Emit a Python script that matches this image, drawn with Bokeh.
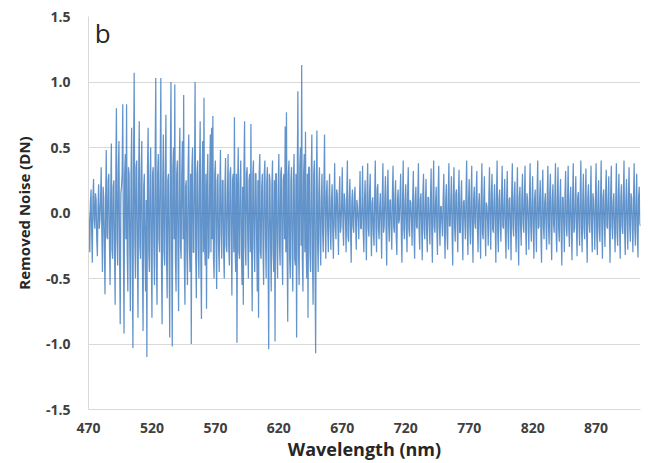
from bokeh.plotting import figure
from bokeh.models import FixedTicker, PrintfTickFormatter, Label, Range1d
from bokeh.embed import file_html
from bokeh.resources import INLINE

wl_start = 470.0
wl_step = 0.5
noise = [
    0.02, -0.10, -0.30, 0.08, 0.18, -0.15, -0.38, 0.12, 0.26, -0.05, -0.12, 0.15, 0.10, -0.20, -0.33, 0.05, 0.22, -0.12, -0.05, 0.10,
    0.35, -0.15, -0.45, 0.20, 0.12, -0.25, -0.62, 0.10, 0.48, -0.18, -0.20, 0.25, 0.30, -0.22, -0.55, 0.15, 0.53, -0.28, -0.35, 0.20,
    0.25, -0.30, -0.70, 0.28, 0.80, -0.20, -0.40, 0.32, 0.55, -0.35, -0.85, 0.15, 0.20, 0.30, 0.83, -0.25, -0.92, 0.30, 0.45, -0.20,
    0.83, -0.30, -0.60, 0.35, 0.30, -0.25, -0.75, 0.28, 0.65, -0.35, -1.03, 0.40, 1.07, -0.20, -0.50, 0.35, 0.40, -0.30, -0.80, 0.25,
    0.70, -0.25, -0.35, 0.30, 0.55, -0.40, -0.90, 0.20, 0.30, -0.30, -0.60, 0.10, -1.10, 0.35, 0.65, -0.30, -0.45, 0.25, 0.50, -0.35,
    -0.80, 0.30, 0.35, -0.25, -0.55, 0.40, 1.03, -0.35, -0.70, 0.30, 0.45, -0.20, -0.30, 0.35, 1.03, -0.40, -0.85, 0.25, 0.60, -0.30,
    -0.40, 0.30, 0.75, -0.35, -0.65, 0.25, 0.30, -0.30, -0.95, 0.40, 1.00, -0.25, -1.02, 0.35, 0.50, -0.20, 0.98, -0.35, -0.60, 0.30,
    0.40, -0.30, -0.75, 0.35, 0.65, -0.25, -0.35, 0.30, 0.55, -0.20, 0.90, -0.35, -0.70, 0.20, 0.25, -0.30, -0.55, 0.35, 0.60, -0.25,
    -0.45, 0.30, -1.00, 0.35, 0.50, -0.30, -0.30, 0.25, 1.00, -0.35, -0.65, 0.30, 0.40, -0.25, -0.50, 0.30, 0.70, -0.35, -0.81, 0.25,
    0.55, -0.30, 0.88, -0.25, -0.40, 0.30, -0.73, 0.20, 0.45, -0.35, -0.30, 0.25, 0.60, -0.30, 0.65, -0.20, 0.74, -0.35, -0.50, 0.30,
    0.40, -0.20, -0.58, 0.25, 0.30, -0.25, -0.45, 0.20, 0.48, -0.15, -0.35, 0.25, 0.25, -0.30, -0.50, 0.20, 0.42, -0.25, -0.30, 0.15,
    0.45, -0.25, -0.40, 0.30, 0.35, -0.20, -0.63, 0.25, 0.30, -0.30, 0.73, -0.25, -0.45, 0.30, -0.99, 0.20, 0.50, -0.30, -0.35, 0.25,
    0.40, -0.30, -0.55, 0.20, -0.70, 0.35, 0.70, -0.25, -0.40, 0.30, 0.35, -0.20, -0.50, 0.25, 0.30, -0.30, 0.68, -0.25, -0.75, 0.30,
    0.40, -0.25, -0.45, 0.30, 0.30, -0.20, -0.60, 0.25, -0.80, 0.30, 0.45, -0.30, -0.35, 0.20, 0.30, -0.25, -0.55, 0.30, 0.40, -0.20,
    -0.50, 0.25, 0.35, -0.30, -1.04, 0.30, 0.25, -0.25, -0.60, 0.20, 0.40, -0.30, -0.45, 0.25, -0.98, 0.30, 0.30, -0.25, -0.50, 0.20,
    0.45, -0.25, -0.40, 0.30, 0.35, -0.30, -0.55, 0.25, 0.30, -0.20, 0.66, -0.30, 0.77, -0.25, -0.83, 0.30, 0.40, -0.35, -0.50, 0.25,
    0.35, -0.30, -0.60, 0.25, 0.45, -0.35, -0.40, 0.30, -0.95, 0.25, 0.93, -0.30, -0.55, 0.35, 0.50, -0.25, 1.13, -0.35, -0.60, 0.30,
    0.45, -0.30, 0.62, -0.25, -0.50, 0.30, -0.80, 0.35, 0.35, -0.30, -0.45, 0.25, 0.60, -0.35, -0.70, 0.30, 0.40, -0.40, -1.07, 0.20,
    0.63, -0.20, -0.45, 0.15, 0.35, -0.20, -0.40, 0.10, 0.30, -0.15, -0.30, 0.20, 0.60, -0.10, -0.35, 0.15, 0.25, -0.12, -0.30, 0.10,
    0.30, -0.12, -0.28, 0.10, 0.22, -0.15, -0.35, 0.05, 0.38, -0.10, -0.20, 0.18, 0.15, -0.08, -0.32, 0.12, 0.28, -0.15, -0.10, 0.08,
    0.35, -0.10, -0.25, 0.15, 0.10, -0.05, -0.30, 0.12, 0.40, -0.18, -0.22, 0.10, 0.26, -0.12, -0.38, 0.08, 0.18, -0.10, -0.15, 0.12,
    0.20, -0.08, -0.28, 0.10, 0.05, -0.05, -0.20, 0.08, 0.32, -0.12, -0.12, 0.06, 0.36, -0.15, -0.30, 0.10, 0.25, -0.08, -0.36, 0.15,
    0.38, -0.12, -0.18, 0.15, 0.30, -0.10, -0.33, 0.08, 0.12, -0.15, -0.25, 0.12, 0.40, -0.10, -0.30, 0.18, 0.22, -0.12, -0.20, 0.05,
    0.15, -0.08, -0.35, 0.12, 0.38, -0.15, -0.10, 0.10, 0.28, -0.12, -0.40, 0.15, 0.33, -0.08, -0.22, 0.10, 0.10, -0.12, -0.28, 0.15,
    0.36, -0.10, -0.15, 0.12, 0.25, -0.18, -0.32, 0.10, 0.18, -0.08, -0.05, 0.12, 0.30, -0.15, -0.38, 0.10, 0.40, -0.12, -0.20, 0.08,
    0.22, -0.10, -0.30, 0.15, 0.35, -0.12, -0.18, 0.10, 0.08, -0.05, -0.25, 0.12, 0.32, -0.15, -0.35, 0.10, 0.20, -0.10, -0.12, 0.12,
    0.38, -0.12, -0.28, 0.10, 0.15, -0.10, -0.36, 0.15, 0.30, -0.12, -0.20, 0.08, 0.26, -0.15, -0.30, 0.12, 0.12, -0.08, -0.24, 0.10,
    0.34, -0.15, -0.38, 0.12, 0.40, -0.10, -0.15, 0.08, 0.20, -0.12, -0.32, 0.15, 0.36, -0.10, -0.25, 0.05, 0.05, -0.08, -0.18, 0.12,
    0.30, -0.12, -0.35, 0.10, 0.22, -0.15, -0.28, 0.12, 0.38, -0.10, -0.10, 0.08, 0.28, -0.15, -0.40, 0.12, 0.35, -0.10, -0.22, 0.15,
    0.18, -0.08, -0.30, 0.12, 0.33, -0.15, -0.15, 0.10, 0.25, -0.12, -0.36, 0.08, 0.10, -0.05, -0.20, 0.15, 0.40, -0.12, -0.32, 0.10,
    0.26, -0.10, -0.24, 0.12, 0.36, -0.15, -0.38, 0.10, 0.20, -0.08, -0.12, 0.15, 0.32, -0.12, -0.30, 0.08, 0.15, -0.10, -0.35, 0.12,
    0.38, -0.15, -0.20, 0.10, 0.28, -0.12, -0.33, 0.08, 0.05, -0.05, -0.25, 0.12, 0.35, -0.10, -0.28, 0.15, 0.30, -0.12, -0.15, 0.08,
    0.22, -0.10, -0.38, 0.12, 0.40, -0.15, -0.30, 0.10, 0.18, -0.08, -0.22, 0.12, 0.36, -0.10, -0.12, 0.08, 0.26, -0.15, -0.35, 0.10,
    0.32, -0.12, -0.28, 0.10, 0.12, -0.08, -0.36, 0.15, 0.38, -0.10, -0.18, 0.12, 0.24, -0.10, -0.30, 0.08, 0.35, -0.15, -0.40, 0.12,
    0.20, -0.10, -0.25, 0.12, 0.30, -0.08, -0.15, 0.10, 0.36, -0.12, -0.32, 0.15, 0.10, -0.05, -0.28, 0.12, 0.38, -0.10, -0.22, 0.08,
    0.28, -0.12, -0.35, 0.10, 0.18, -0.08, -0.30, 0.15, 0.40, -0.12, -0.10, 0.10, 0.25, -0.15, -0.38, 0.12, 0.33, -0.10, -0.20, 0.08,
    0.15, -0.08, -0.28, 0.12, 0.36, -0.10, -0.24, 0.15, 0.30, -0.12, -0.36, 0.10, 0.22, -0.08, -0.15, 0.12, 0.38, -0.15, -0.30, 0.10,
    0.35, -0.12, -0.22, 0.10, 0.26, -0.15, -0.40, 0.12, 0.12, -0.08, -0.30, 0.15, 0.32, -0.10, -0.18, 0.08, 0.36, -0.12, -0.26, 0.10,
    0.20, -0.10, -0.36, 0.12, 0.38, -0.15, -0.12, 0.08, 0.28, -0.10, -0.33, 0.12, 0.16, -0.08, -0.25, 0.15, 0.40, -0.12, -0.30, 0.10,
    0.30, -0.12, -0.20, 0.10, 0.34, -0.15, -0.38, 0.12, 0.22, -0.08, -0.15, 0.10, 0.36, -0.12, -0.30, 0.15, 0.10, -0.05, -0.28, 0.12,
    0.38, -0.15, -0.32, 0.10, 0.25, -0.12, -0.22, 0.08, 0.40, -0.10, -0.35, 0.12, 0.18, -0.08, -0.26, 0.15, 0.33, -0.10, -0.12, 0.10,
    0.28, -0.12, -0.38, 0.15, 0.36, -0.10, -0.20, 0.08, 0.15, -0.12, -0.30, 0.10, 0.38, -0.15, -0.25, 0.12, 0.30, -0.10, -0.35, 0.12,
    0.22, -0.10, -0.16, 0.12, 0.40, -0.15, -0.32, 0.10, 0.26, -0.08, -0.28, 0.12, 0.35, -0.10, -0.22, 0.15, 0.12, -0.08, -0.30, 0.10,
    0.38, -0.12, -0.25, 0.10, 0.30, -0.15, -0.34, 0.12, 0.20, -0.08, -0.10,
]
wavelength = [wl_start + wl_step * i for i in range(len(noise))]

x_ticks = [470, 520, 570, 620, 670, 720, 770, 820, 870]
y_ticks = [-1.5, -1.0, -0.5, 0.0, 0.5, 1.0, 1.5]

p = figure(width=648, height=463, output_backend="svg", toolbar_location=None,
           x_range=Range1d(470, 905), y_range=Range1d(-1.5, 1.5),
           min_border_left=88, min_border_right=8, min_border_top=16,
           min_border_bottom=53)
p.outline_line_color = None
p.background_fill_color = "white"

p.line(wavelength, noise, line_color="#3676bd", line_width=1.25, line_alpha=0.78)

p.xaxis.ticker = FixedTicker(ticks=x_ticks)
p.yaxis.ticker = FixedTicker(ticks=y_ticks)
p.yaxis.formatter = PrintfTickFormatter(format="%.1f")
p.xgrid.grid_line_color = None
p.ygrid.grid_line_color = "#d9d9d9"
p.ygrid.grid_line_width = 1

for ax in (p.xaxis, p.yaxis):
    ax.major_tick_line_color = None
    ax.minor_tick_line_color = None
    ax.axis_line_color = "#d9d9d9"
    ax.major_label_text_font = "Open Sans"
    ax.major_label_text_font_style = "bold"
    ax.major_label_text_font_size = "14px"
    ax.major_label_text_color = "#404040"
    ax.axis_label_text_font = "Open Sans"
    ax.axis_label_text_font_style = "bold"
    ax.axis_label_text_color = "#262626"

p.xaxis.major_label_standoff = 7
p.yaxis.major_label_standoff = 12
p.xaxis.axis_label = "Wavelength (nm)"
p.xaxis.axis_label_text_font_size = "18px"
p.xaxis.axis_label_standoff = 1
p.yaxis.axis_label = "Removed Noise (DN)"
p.yaxis.axis_label_text_font_size = "15px"
p.yaxis.axis_label_standoff = 9

p.add_layout(Label(x=475, y=1.24, text="b", text_font="Open Sans",
                   text_font_size="26px", text_color="#262626"))

open("out.html", "w").write(file_html(p, INLINE))
